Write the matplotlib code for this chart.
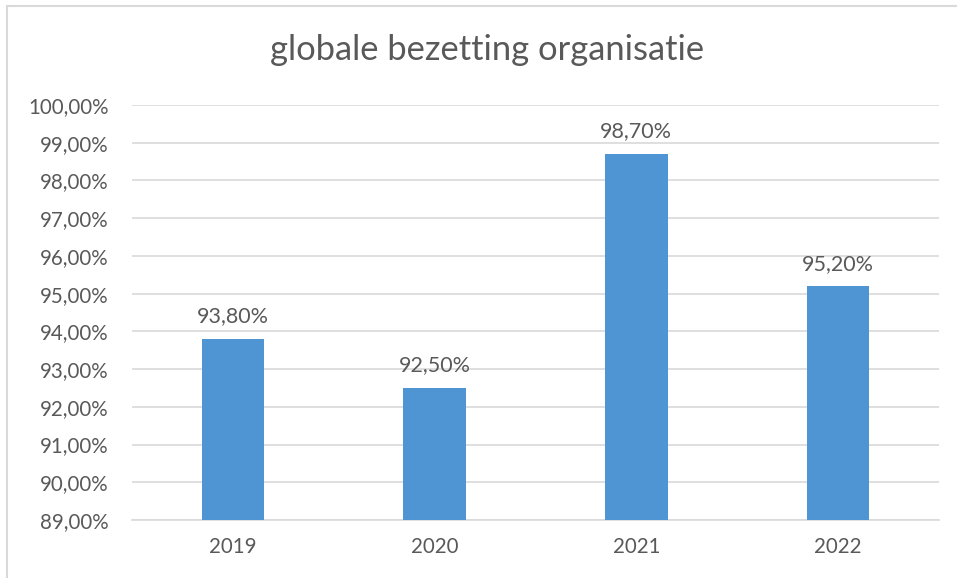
import matplotlib.pyplot as plt
from matplotlib.patches import Rectangle

# data
years = ["2019", "2020", "2021", "2022"]
occupancy = [93.8, 92.5, 98.7, 95.2]
y_ticks = [89, 90, 91, 92, 93, 94, 95, 96, 97, 98, 99, 100]

plt.rcParams['font.family'] = ['Lato', 'DejaVu Sans']
text_color = '#595959'
grid_color = '#d9d9d9'
bar_color = '#4f94d3'

fig = plt.figure(figsize=(9.57, 5.78), dpi=100)
ax = fig.add_axes([0.138, 0.1003, 0.843, 0.718])

x = range(len(years))
bars = ax.bar(x, occupancy, width=0.31, color=bar_color, zorder=3)

ax.set_xlim(-0.5, len(years) - 0.5)
ax.set_ylim(89, 100)
ax.set_yticks(y_ticks)
ax.set_yticklabels([f"{v:.2f}%".replace('.', ',') for v in y_ticks])
ax.set_xticks(list(x))
ax.set_xticklabels(years)

ax.grid(axis='y', color=grid_color, linewidth=1.2, zorder=0)
for side in ['top', 'right', 'left']:
    ax.spines[side].set_visible(False)
ax.spines['bottom'].set_color(grid_color)
ax.spines['bottom'].set_linewidth(1.2)
ax.tick_params(axis='both', length=0, colors=text_color, labelsize=14.8)
ax.tick_params(axis='y', pad=17)
ax.tick_params(axis='x', pad=12)

# value labels
for xi, v in zip(x, occupancy):
    ax.annotate(f"{v:.2f}%".replace('.', ','), (xi, v), xytext=(0, 9),
                textcoords='offset points', ha='center', va='bottom',
                fontsize=15.5, color=text_color)

fig.text(0.509, 0.913, "globale bezetting organisatie", ha='center', va='center',
         fontsize=24.8, color=text_color)

# chart border
fig.patches.append(Rectangle((7 / 957, -0.05), 1.1, 1 - 6 / 578 + 0.05,
                             transform=fig.transFigure, fill=False,
                             edgecolor=grid_color, linewidth=1.5))

fig.savefig("out.png", dpi=100)
